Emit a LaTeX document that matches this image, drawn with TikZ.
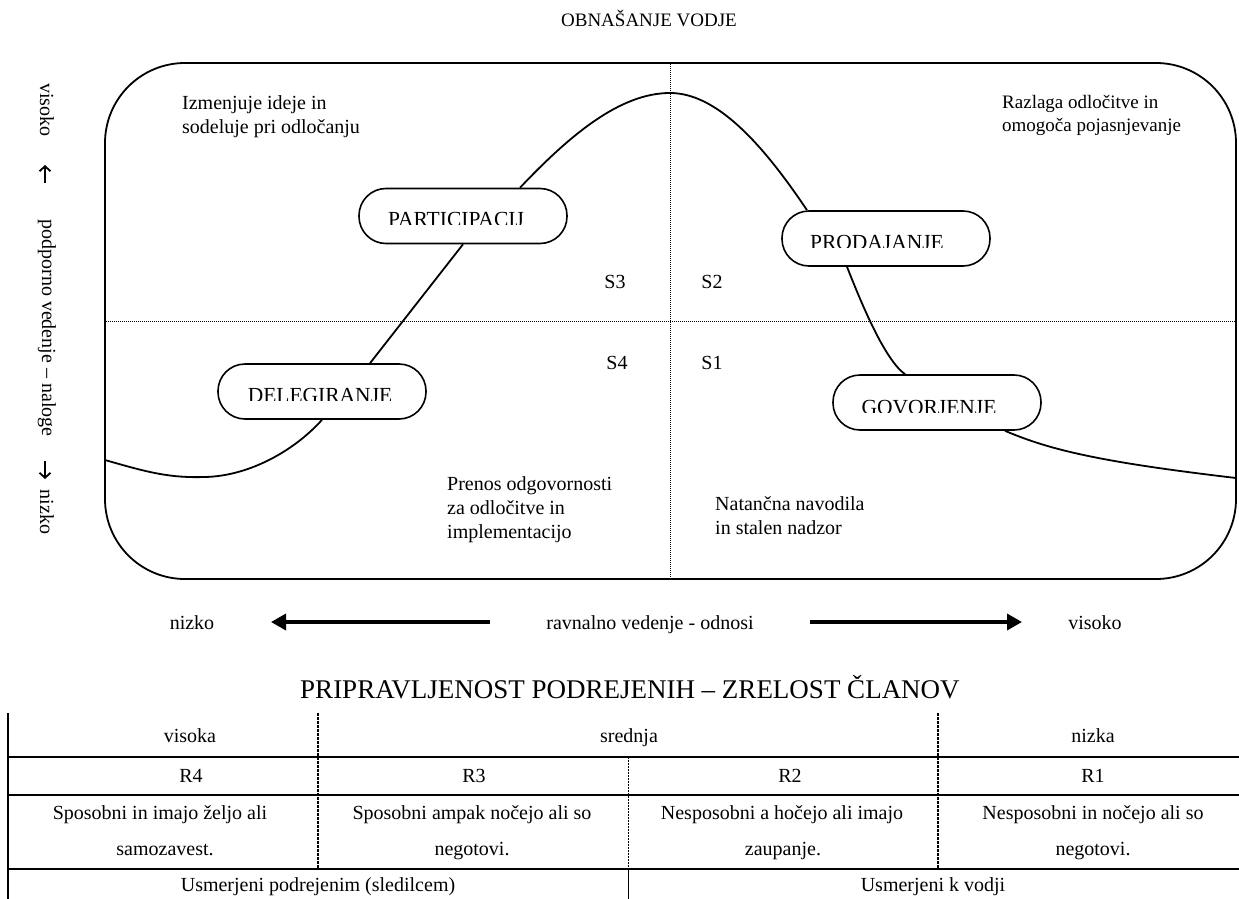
\documentclass[tikz,border=0pt]{standalone}
\usepackage{fontspec}
\setmainfont{Liberation Serif}
\usetikzlibrary{arrows.meta}
\begin{document}
\begin{tikzpicture}[x=1pt,y=-1pt,
  outline/.style={line width=1.8pt},
  guide/.style={line width=0.8pt, dash pattern=on 1pt off 1pt},
  pill/.style={draw, line width=1.6pt, fill=white, rounded corners=27pt,
    minimum width=208pt, minimum height=55pt, inner sep=0pt},
  pilltext/.style={font=\fontsize{21.5}{24}\selectfont, anchor=base, inner sep=0pt},
  body/.style={font=\fontsize{20}{24}\selectfont, align=left, inner sep=0pt, anchor=north west},
  lbl/.style={font=\fontsize{20}{24}\selectfont, inner sep=0pt},
  cell/.style={font=\fontsize{20}{24}\selectfont, inner sep=0pt, anchor=base},
  axisarrow/.style={line width=3.4pt, -{Triangle[length=15pt,width=16pt]}},
  vertarrow/.style={line width=1.8pt, -{Straight Barb[length=5pt,width=11pt]}},
  rule/.style={line width=1.8pt},
  coldash/.style={line width=1.5pt, dash pattern=on 2.5pt off 1.5pt},
  colfine/.style={line width=0.9pt, dash pattern=on 1.5pt off 1.5pt}
]
\useasboundingbox (0,0) rectangle (1239,899);

% heading above the grid
\node[font=\fontsize{19}{24}\selectfont, inner sep=0pt, anchor=base] (title) at (649,27) {OBNAŠANJE VODJE};

% frame and quadrant guides
\node[draw, outline, rounded corners=80pt, minimum width=1131pt, minimum height=516pt,
  inner sep=0pt] (frame) at (670.5,321) {};
\draw[guide] (frame.north) -- (frame.south);
\draw[guide] (frame.west) -- (frame.east);

% style stages
\node[pill] (part) at (463,216) {};
\node[pill] (del)  at (322,391.5) {};
\node[pill] (prod) at (886,238.5) {};
\node[pill] (gov)  at (937,402.5) {};

\begin{scope}
  \clip (359,190) rectangle (567,224.5);
  \node[pilltext] (partlbl) at (456,226.5) {PARTICIPACIJ};
\end{scope}
\begin{scope}
  \clip (218,365) rectangle (427,400.5);
  \node[pilltext] (dellbl) at (320,402.5) {DELEGIRANJE};
\end{scope}
\begin{scope}
  \clip (782,212) rectangle (990,247.5);
  \node[pilltext] (prodlbl) at (877,249.5) {PRODAJANJE};
\end{scope}
\begin{scope}
  \clip (833,376) rectangle (1041,412.5);
  \node[pilltext] (govlbl) at (929,414.5) {GOVORJENJE};
\end{scope}

% the bell curve through the stages
\coordinate (cL) at (105,460);
\coordinate (cR) at (1236,478);
\coordinate (peak) at (670,93);
\coordinate (low) at (205,477);
\draw[outline] (cL) .. controls (150,473) and (170,478) .. (low)
  .. controls (250,476) and (295,450) .. (del.south);
\draw[outline] ([xshift=48pt]del.north) -- (part.south);
\draw[outline] ([xshift=57pt]part.north) .. controls (570,135) and (620,93) .. (peak)
  .. controls (715,93) and (760,140) .. ([xshift=-79pt]prod.north);
\draw[outline] ([xshift=-39pt]prod.south) .. controls (862,305) and (885,360) .. ([xshift=-32pt]gov.north);
\draw[outline] ([xshift=68pt]gov.south) .. controls (1050,450) and (1100,462) .. (cR);

% quadrant descriptions
\begin{scope}
  \clip (170,80) rectangle (420,141);
  \node[body] (q3) at (182,95) {Izmenjuje ideje in\\sodeluje pri odločanju};
\end{scope}
\node[body, font=\fontsize{19}{23}\selectfont] (q2) at (1002,95) {Razlaga odločitve in\\omogoča pojasnjevanje};
\node[body] (q4) at (447,476) {Prenos odgovornosti\\za odločitve in\\implementacijo};
\node[body] (q1) at (715,496) {Natančna navodila\\in stalen nadzor};

\node[lbl] (s3) at (615,282) {S3};
\node[lbl] (s2) at (712,282) {S2};
\node[lbl] (s4) at (617,363) {S4};
\node[lbl] (s1) at (712,363) {S1};

% vertical axis
\node[lbl, rotate=-90] (vhi)  at (47,110) {visoko};
\node[lbl, rotate=-90] (vmid) at (47,328) {podporno vedenje – naloge};
\node[lbl, rotate=-90] (vlo)  at (47,512) {nizko};
\coordinate (vu0) at (45,183);
\coordinate (vu1) at (45,165);
\coordinate (vd0) at (45,461);
\coordinate (vd1) at (45,479);
\draw[vertarrow] (vu0) -- (vu1);
\draw[vertarrow] (vd0) -- (vd1);

% horizontal axis
\node[cell] (hlo)  at (192,629) {nizko};
\node[cell] (hmid) at (650,629) {ravnalno vedenje - odnosi};
\node[cell] (hhi)  at (1095,629) {visoko};
\coordinate (aL0) at (490,622);
\coordinate (aL1) at (271,622);
\coordinate (aR0) at (810,622);
\coordinate (aR1) at (1022,622);
\draw[axisarrow] (aL0) -- (aL1);
\draw[axisarrow] (aR0) -- (aR1);

% readiness table
\node[font=\fontsize{27}{32}\selectfont, anchor=base, inner sep=0pt] (head) at (630,698)
  {PRIPRAVLJENOST PODREJENIH – ZRELOST ČLANOV};

\draw[rule] (8,713) -- (8,899);
\foreach \y in {757,795,869} \draw[rule] (8,\y) -- (1239,\y);
\draw[coldash] (318,713) -- (318,869);
\draw[coldash] (938,713) -- (938,869);
\draw[colfine] (628,757) -- (628,869);
\draw[line width=1pt] (628,869) -- (628,899);

\node[cell] (t11) at (190,742) {visoka};
\node[cell] (t12) at (629,742) {srednja};
\node[cell] (t13) at (1093,742) {nizka};

\node[cell] (r4) at (191,782) {R4};
\node[cell] (r3) at (474,782) {R3};
\node[cell] (r2) at (790,782) {R2};
\node[cell] (r1) at (1093,782) {R1};

\node[cell] (d4a) at (160,819) {Sposobni in imajo željo ali};
\node[cell] (d4b) at (165,855) {samozavest.};
\node[cell] (d3a) at (472,819) {Sposobni ampak nočejo ali so};
\node[cell] (d3b) at (472,855) {negotovi.};
\node[cell] (d2a) at (782,819) {Nesposobni a hočejo ali imajo};
\node[cell] (d2b) at (783,855) {zaupanje.};
\node[cell] (d1a) at (1093,819) {Nesposobni in nočejo ali so};
\node[cell] (d1b) at (1093,855) {negotovi.};

\node[cell] (f1) at (318,891) {Usmerjeni podrejenim (sledilcem)};
\node[cell] (f2) at (933,891) {Usmerjeni k vodji};
\end{tikzpicture}
\end{document}
